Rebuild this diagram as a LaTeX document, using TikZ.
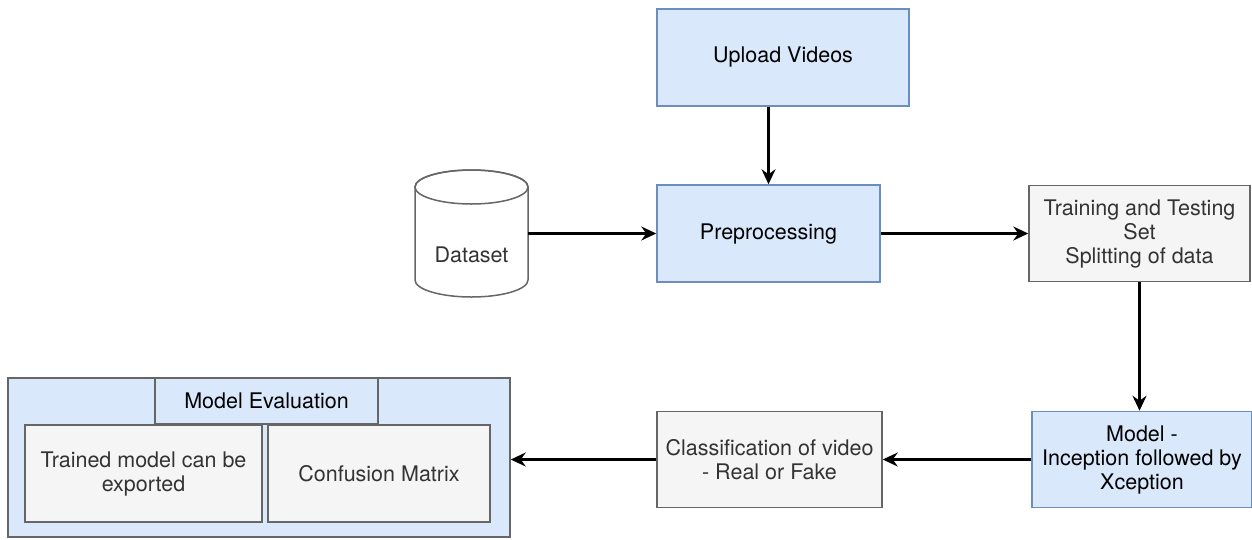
\documentclass[tikz,border=0pt]{standalone}
\usepackage{fontspec}
\setmainfont{TeX Gyre Heros}
\usetikzlibrary{arrows.meta}
\definecolor{bluefill}{HTML}{DAE8FC}
\definecolor{bluedraw}{HTML}{6C8EBF}
\definecolor{greyfill}{HTML}{F5F5F5}
\definecolor{greydraw}{HTML}{666666}
\definecolor{greytext}{HTML}{333333}
\tikzset{
  bluebox/.style={draw=bluedraw, fill=bluefill, line width=1.5pt, text=black, align=center, inner sep=0pt,
    font=\fontsize{21.5}{24}\selectfont},
  greybox/.style={draw=greydraw, fill=greyfill, line width=1.5pt, text=greytext, align=center, inner sep=0pt,
    font=\fontsize{21.5}{24}\selectfont},
  conn/.style={line width=2.4pt, -{Stealth[length=15pt,width=14pt,inset=5pt]}},
}
\begin{document}
\begin{tikzpicture}[x=1pt,y=-1pt]
\useasboundingbox (0,0) rectangle (1252,539);
% main flow
\node[bluebox, minimum width=252pt, minimum height=97pt] (up) at (783,57.5) {Upload Videos};
\node[bluebox, minimum width=223pt, minimum height=97pt] (pre) at (768.5,233.5) {Preprocessing};
\node[greybox, minimum width=221pt, minimum height=96pt] (tr) at (1139.5,233.5) {Training and Testing\\Set\\Splitting of data};
\node[bluebox, minimum width=220pt, minimum height=96pt] (mod) at (1142,459.5) {Model -\\Inception followed by\\Xception};
\node[greybox, minimum width=225pt, minimum height=96pt] (cls) at (769.5,459.5) {Classification of video\\- Real or Fake};
% dataset cylinder
\draw[draw=greydraw, fill=white, line width=1.5pt]
  (415,187) -- (415,280) arc[start angle=180, end angle=0, x radius=56.5, y radius=17]
  -- (528,187) arc[start angle=0, end angle=-180, x radius=56.5, y radius=17] -- cycle;
\draw[draw=greydraw, line width=1.5pt] (471.5,187) ellipse[x radius=56.5, y radius=17];
\node[minimum width=113pt, minimum height=127pt, inner sep=0pt] (ds) at (471.5,233.5) {};
\node[text=greytext, font=\fontsize{21.5}{24}\selectfont] (dslabel) at (471.5,255) {Dataset};
% model evaluation group
\node[draw=greydraw, fill=bluefill, line width=1.5pt, minimum width=502pt, minimum height=159pt, inner sep=0pt] (ev) at (259,457.5) {};
\node[draw=greydraw, fill=bluefill, line width=1.5pt, minimum width=223pt, minimum height=46pt, inner sep=0pt,
  font=\fontsize{21.5}{24}\selectfont, text=black] (tab) at (266.5,401) {Model Evaluation};
\node[greybox, minimum width=237pt, minimum height=97pt] (exp) at (143.5,473.5) {Trained model can be\\exported};
\node[greybox, minimum width=222pt, minimum height=97pt] (cm) at (379,473.5) {Confusion Matrix};
% connectors
\draw[conn] (up.south -| pre.north) -- (pre.north);
\draw[conn] (ds.east) -- (pre.west);
\draw[conn] (pre.east) -- (tr.west);
\draw[conn] (tr.south) -- (tr.south |- mod.north);
\draw[conn] (mod.west) -- (cls.east);
\draw[conn] (cls.west) -- (cls.west -| ev.east);
\end{tikzpicture}
\end{document}
